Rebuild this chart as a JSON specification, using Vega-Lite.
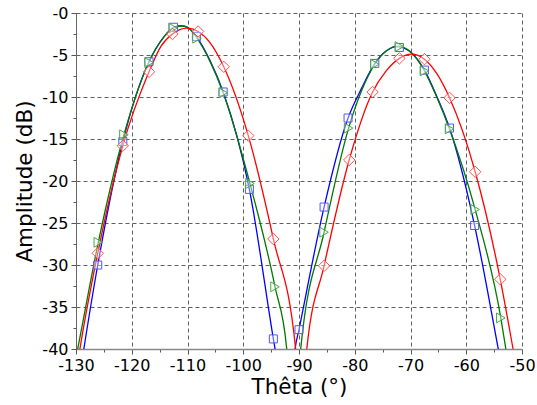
{
  "$schema": "https://vega.github.io/schema/vega-lite/v6.json",
  "width": 446,
  "height": 336,
  "autosize": {"type": "none"},
  "padding": {"left": 76, "top": 13, "right": 15, "bottom": 56},
  "config": {
    "font": "DejaVu Sans",
    "view": {"stroke": null},
    "axis": {
      "labelFont": "DejaVu Sans",
      "titleFont": "DejaVu Sans",
      "labelFontSize": 16,
      "titleFontWeight": "normal",
      "labelColor": "#000",
      "titleColor": "#000",
      "tickColor": "#555",
      "domainColor": "#666",
      "gridColor": "#444",
      "gridDash": [4, 3],
      "labelFlush": false
    }
  },
  "datasets": {
    "lines": [
      {"s":"b","x":-130,"y":-46},{"s":"b","x":-128.6,"y":-40},{"s":"b","x":-126.1,"y":-30},{"s":"b","x":-121.6,"y":-15.3},{"s":"b","x":-116.9,"y":-5.8},{"s":"b","x":-114.3,"y":-2.9},{"s":"b","x":-112.5,"y":-1.7},{"s":"b","x":-111.2,"y":-1.5},{"s":"b","x":-110,"y":-1.7},{"s":"b","x":-108.4,"y":-2.8},{"s":"b","x":-106,"y":-5.6},{"s":"b","x":-103.6,"y":-9.4},{"s":"b","x":-98.9,"y":-21.0},{"s":"b","x":-94.6,"y":-38.8},{"s":"b","x":-94.3,"y":-40},{"s":"b","x":-92.5,"y":-60},{"s":"b","x":-90.7,"y":-40},{"s":"b","x":-90,"y":-37.7},{"s":"b","x":-85.5,"y":-23.1},{"s":"b","x":-81.2,"y":-12.5},{"s":"b","x":-78.8,"y":-9.0},{"s":"b","x":-76.4,"y":-6.0},{"s":"b","x":-74.3,"y":-4.5},{"s":"b","x":-72.5,"y":-4.0},{"s":"b","x":-70.3,"y":-4.5},{"s":"b","x":-67.5,"y":-6.8},{"s":"b","x":-65.3,"y":-9.9},{"s":"b","x":-63,"y":-13.7},{"s":"b","x":-58.5,"y":-25.3},{"s":"b","x":-54.25,"y":-40},{"s":"b","x":-52,"y":-48},
      {"s":"g","x":-130,"y":-41},{"s":"g","x":-129.7,"y":-40},{"s":"g","x":-126.0,"y":-27.3},{"s":"g","x":-121.4,"y":-14.5},{"s":"g","x":-116.9,"y":-5.8},{"s":"g","x":-114.3,"y":-2.9},{"s":"g","x":-112.6,"y":-1.8},{"s":"g","x":-111.0,"y":-1.55},{"s":"g","x":-109.8,"y":-1.8},{"s":"g","x":-108.3,"y":-3.0},{"s":"g","x":-106,"y":-5.7},{"s":"g","x":-103.6,"y":-9.5},{"s":"g","x":-98.8,"y":-20.3},{"s":"g","x":-94.3,"y":-32.6},{"s":"g","x":-92.2,"y":-40},{"s":"g","x":-91.0,"y":-60},{"s":"g","x":-89.7,"y":-40},{"s":"g","x":-85.5,"y":-26.1},{"s":"g","x":-81.1,"y":-13.7},{"s":"g","x":-78.8,"y":-9.3},{"s":"g","x":-76.4,"y":-6.1},{"s":"g","x":-74.3,"y":-4.5},{"s":"g","x":-72.3,"y":-3.95},{"s":"g","x":-70.2,"y":-4.5},{"s":"g","x":-67.5,"y":-6.9},{"s":"g","x":-65.3,"y":-10.0},{"s":"g","x":-63,"y":-13.8},{"s":"g","x":-58.4,"y":-23.4},{"s":"g","x":-53.8,"y":-36.3},{"s":"g","x":-52.9,"y":-40},{"s":"g","x":-51.5,"y":-46},
      {"s":"r","x":-130,"y":-43},{"s":"r","x":-129.3,"y":-40},{"s":"r","x":-126.1,"y":-28.6},{"s":"r","x":-121.6,"y":-15.8},{"s":"r","x":-116.9,"y":-7.0},{"s":"r","x":-114.8,"y":-4.0},{"s":"r","x":-112.7,"y":-2.5},{"s":"r","x":-110.1,"y":-1.8},{"s":"r","x":-108.1,"y":-2.2},{"s":"r","x":-106,"y":-3.5},{"s":"r","x":-103.5,"y":-6.4},{"s":"r","x":-99.1,"y":-14.6},{"s":"r","x":-94.6,"y":-26.9},{"s":"r","x":-90.6,"y":-40},{"s":"r","x":-89.6,"y":-60},{"s":"r","x":-88.6,"y":-40},{"s":"r","x":-85.5,"y":-30.1},{"s":"r","x":-81,"y":-17.5},{"s":"r","x":-76.8,"y":-9.4},{"s":"r","x":-74.5,"y":-7.0},{"s":"r","x":-72,"y":-5.4},{"s":"r","x":-69.8,"y":-4.9},{"s":"r","x":-67.5,"y":-5.5},{"s":"r","x":-65.3,"y":-7.2},{"s":"r","x":-63,"y":-10.1},{"s":"r","x":-58.4,"y":-18.9},{"s":"r","x":-53.9,"y":-31.7},{"s":"r","x":-51.6,"y":-40},{"s":"r","x":-50,"y":-46}
    ],
    "marks": [
      {"s":"b","x":-126.1,"y":-30},{"s":"b","x":-121.6,"y":-15.3},{"s":"b","x":-116.9,"y":-5.8},{"s":"b","x":-112.5,"y":-1.7},{"s":"b","x":-108.4,"y":-2.8},{"s":"b","x":-103.6,"y":-9.4},{"s":"b","x":-98.9,"y":-21.0},{"s":"b","x":-94.6,"y":-38.8},{"s":"b","x":-90,"y":-37.7},{"s":"b","x":-85.5,"y":-23.1},{"s":"b","x":-81.2,"y":-12.5},{"s":"b","x":-76.4,"y":-6.0},{"s":"b","x":-72,"y":-4.1},{"s":"b","x":-67.5,"y":-6.8},{"s":"b","x":-63,"y":-13.7},{"s":"b","x":-58.5,"y":-25.3},
      {"s":"g","x":-126.0,"y":-27.3},{"s":"g","x":-121.4,"y":-14.5},{"s":"g","x":-116.9,"y":-5.9},{"s":"g","x":-112.6,"y":-1.8},{"s":"g","x":-108.3,"y":-3.0},{"s":"g","x":-103.6,"y":-9.5},{"s":"g","x":-98.8,"y":-20.3},{"s":"g","x":-94.3,"y":-32.6},{"s":"g","x":-85.5,"y":-26.1},{"s":"g","x":-81.1,"y":-13.7},{"s":"g","x":-76.4,"y":-6.1},{"s":"g","x":-72,"y":-4.0},{"s":"g","x":-67.5,"y":-6.9},{"s":"g","x":-63,"y":-13.8},{"s":"g","x":-58.4,"y":-23.4},{"s":"g","x":-53.8,"y":-36.3},
      {"s":"r","x":-126.1,"y":-28.6},{"s":"r","x":-121.6,"y":-15.8},{"s":"r","x":-116.9,"y":-7.0},{"s":"r","x":-112.7,"y":-2.5},{"s":"r","x":-108.1,"y":-2.2},{"s":"r","x":-103.5,"y":-6.4},{"s":"r","x":-99.1,"y":-14.6},{"s":"r","x":-94.6,"y":-26.9},{"s":"r","x":-85.5,"y":-30.1},{"s":"r","x":-81,"y":-17.5},{"s":"r","x":-76.8,"y":-9.4},{"s":"r","x":-72,"y":-5.4},{"s":"r","x":-67.5,"y":-5.5},{"s":"r","x":-63,"y":-10.1},{"s":"r","x":-58.4,"y":-18.9},{"s":"r","x":-53.9,"y":-31.7}
    ]
  },
  "encoding": {
    "x": {
      "field": "x", "type": "quantitative",
      "scale": {"domain": [-130, -50], "nice": false, "zero": false},
      "axis": {
        "title": "Thêta (°)",
        "titleFontSize": 21.5,
        "values": [-130, -125, -120, -115, -110, -105, -100, -95, -90, -85, -80, -75, -70, -65, -60, -55, -50],
        "grid": true,
        "gridOpacity": {"condition": {"test": "datum.value % 10 === 0", "value": 0.85}, "value": 0},
        "tickSize": {"condition": {"test": "datum.value % 10 === 0", "value": 5}, "value": 3},
        "labelPadding": 3, "titlePadding": 3,
        "domainWidth": 1.5, "domainColor": "#888",
        "labelExpr": "datum.value % 10 === 0 ? '-' + format(abs(datum.value), 'd') : ''"
      }
    },
    "y": {
      "field": "y", "type": "quantitative",
      "scale": {"domain": [-40, 0], "nice": false, "zero": false},
      "axis": {
        "title": "Amplitude (dB)",
        "titleFontSize": 21.5,
        "values": [0, -2.5, -5, -7.5, -10, -12.5, -15, -17.5, -20, -22.5, -25, -27.5, -30, -32.5, -35, -37.5, -40],
        "grid": true,
        "gridOpacity": {"condition": {"test": "datum.value % 5 === 0", "value": 0.85}, "value": 0},
        "tickSize": {"condition": {"test": "datum.value % 5 === 0", "value": 5}, "value": 3},
        "labelPadding": 3, "titlePadding": 5,
        "labelExpr": "datum.value % 5 === 0 ? '-' + format(abs(datum.value), 'd') : ''"
      }
    }
  },
  "layer": [
    {
      "data": {"name": "lines"},
      "mark": {"type": "line", "interpolate": "monotone", "clip": true, "strokeWidth": 1.3},
      "encoding": {
        "color": {
          "field": "s", "type": "nominal",
          "scale": {"domain": ["b", "g", "r"], "range": ["#0000ff", "#007a00", "#ff0000"]},
          "legend": null
        }
      }
    },
    {
      "data": {"name": "marks"},
      "mark": {"type": "point", "strokeWidth": 1, "fill": "white", "fillOpacity": 0.4, "clip": true},
      "encoding": {
        "shape": {
          "field": "s", "type": "nominal",
          "scale": {"domain": ["b", "g", "r"], "range": ["square", "triangle-right", "diamond"]},
          "legend": null
        },
        "size": {
          "field": "s", "type": "nominal",
          "scale": {"domain": ["b", "g", "r"], "range": [64, 130, 100]},
          "legend": null
        },
        "stroke": {
          "field": "s", "type": "nominal",
          "scale": {"domain": ["b", "g", "r"], "range": ["#5555ff", "#44aa44", "#ff5050"]},
          "legend": null
        }
      }
    }
  ]
}
